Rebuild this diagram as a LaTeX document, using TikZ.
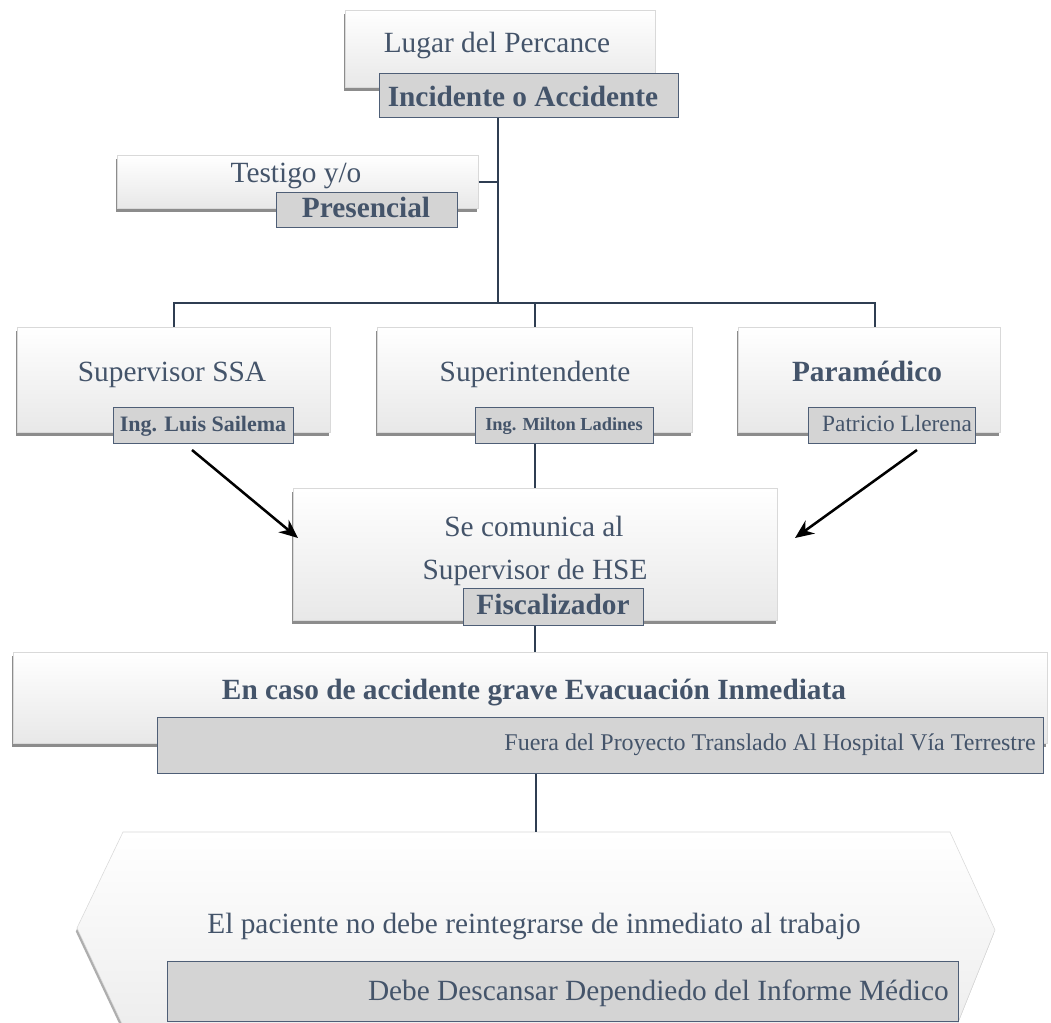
\documentclass[tikz,border=0pt]{standalone}
\usepackage{fontspec}
\setmainfont{Liberation Serif}
\usetikzlibrary{shadows,arrows.meta,calc}
\definecolor{txtc}{HTML}{44546A}
\definecolor{labf}{HTML}{D4D4D4}
\definecolor{labd}{HTML}{4E5E76}
\definecolor{connc}{HTML}{2F3E52}
\def\pxu{0.75pt}
\tikzset{
 pbox/.style={draw=gray!30, line width=0.4pt, top color=white, bottom color=gray!18,
   drop shadow={shadow xshift=-0.9pt, shadow yshift=-3pt, opacity=0.6, fill=black!75},
   anchor=north west, inner sep=0pt},
 plab/.style={draw=labd, line width=0.8pt, fill=labf, anchor=north west, inner sep=0pt},
 tt/.style={text=txtc, font=\fontsize{22}{26}\selectfont, inner sep=0pt, anchor=base},
 tb/.style={tt, font=\fontsize{22}{26}\selectfont\bfseries},
 conn/.style={draw=connc, line width=1.6pt},
 arr/.style={draw=black, line width=1.9pt, -{Stealth[length=14pt,width=12pt]}},
}
\newcommand\bx[6]{\node[#1, minimum width=#4*\pxu-#2*\pxu, minimum height=#5*\pxu-#3*\pxu] (#6) at (#2,#3) {};}
\begin{document}
\begin{tikzpicture}[x=0.75pt,y=-0.75pt]
\useasboundingbox (0,0) rectangle (1051,1023);
\fill[white] (0,0) rectangle (1051,1023);

% top
\bx{pbox}{345}{10}{655}{87}{lugar}
\node[tt] (lugart) at (497,53) {Lugar del Percance};
\bx{plab}{379}{73}{678}{117}{incid}
\node[tb] (incidt) at (523,107) {Incidente o Accidente};

% witness
\bx{pbox}{117}{155}{478}{208}{testigo}
\node[tt] (testigot) at (296,183) {Testigo y/o};
\bx{plab}{276}{192}{457}{227}{presen}
\node[tb] (present) at (366,218) {Presencial};

% three boxes
\bx{pbox}{17}{327}{330}{432}{ssa}
\node[tt] (ssat) at (172,382) {Supervisor SSA};
\bx{plab}{113}{407}{293}{443}{luis}
\node[tb, font=\fontsize{16.5}{20}\selectfont\bfseries] (luist) at (203,432) {Ing. Luis Sailema};

\bx{pbox}{377}{327}{692}{432}{super}
\node[tt] (supert) at (535,382) {Superintendente};
\bx{plab}{475}{407}{653}{443}{milton}
\node[tb, font=\fontsize{13.8}{17}\selectfont\bfseries] (miltont) at (564,431) {Ing. Milton Ladines};

\bx{pbox}{738}{327}{1000}{432}{param}
\node[tb] (paramt) at (867,382) {Paramédico};
\bx{plab}{808}{407}{975}{443}{patri}
\node[tt, font=\fontsize{17.5}{21}\selectfont] (patrit) at (897,432) {Patricio Llerena};

% se comunica
\bx{pbox}{293}{488}{777}{620}{secom}
\node[tt] (secomt1) at (534,537) {Se comunica al};
\node[tt] (secomt2) at (535,580) {Supervisor de HSE};
\bx{plab}{463}{588}{643}{625}{fisc}
\node[tb] (fisct) at (553,615) {Fiscalizador};

% en caso
\bx{pbox}{13}{652}{1047}{743}{encaso}
\node[tb] (encasot) at (534,700) {En caso de accidente grave Evacuación Inmediata};
\bx{plab}{157}{717}{1043}{773}{fuera}
\node[tt, anchor=base east, font=\fontsize{18}{22}\selectfont] (fuerat) at (1036,750) {Fuera del Proyecto Translado Al Hospital Vía Terrestre};

% hexagon
\path[draw=gray!30, line width=0.4pt, top color=white, bottom color=gray!14,
   drop shadow={shadow xshift=-0.9pt, shadow yshift=-2.6pt, opacity=0.45, fill=black!70}]
   (123,832) -- (950,832) -- (995,930) -- (955,1030) -- (125,1030) -- (77,928) -- cycle;
\coordinate (hextop) at (536,832);
\node[tt] (pact) at (534,933) {El paciente no debe reintegrarse de inmediato al trabajo};
\bx{plab}{167}{961}{958}{1021}{debe}
\node[tt, anchor=base east] (debet) at (949,1000) {Debe Descansar Dependiedo del Informe Médico};

% connectors
\coordinate (j1) at (498,303);
\coordinate (pdrop) at (875,327);
\draw[conn] (incid.south -| j1) -- (j1);
\draw[conn] (testigo.east) -- (testigo.east -| j1);
\draw[conn] (ssa.north) -- (ssa.north |- j1) -- (pdrop |- j1) -- (pdrop);
\draw[conn] (super.north) -- (super.north |- j1);
\draw[conn] (secom.north |- milton.south) -- (secom.north);
\draw[conn] (secom.south |- fisc.south) -- (secom.south |- encaso.north);
\draw[conn] (hextop |- fuera.south) -- (hextop);

% arrows
\coordinate (a1s) at (192,450);
\coordinate (a1e) at (298,538);
\coordinate (a2s) at (917,450);
\coordinate (a2e) at (795,538);
\draw[arr] (a1s) -- (a1e);
\draw[arr] (a2s) -- (a2e);
\end{tikzpicture}
\end{document}
